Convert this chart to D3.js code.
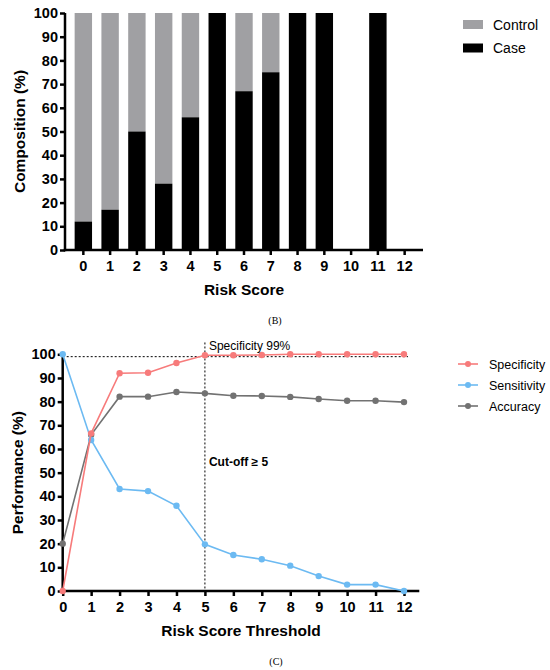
<!DOCTYPE html>
<html><head><meta charset="utf-8">
<script src="https://cdn.jsdelivr.net/npm/d3@7"></script>
<style>
body{margin:0;background:#fff;}
svg{display:block;font-family:"Liberation Sans",Arial,sans-serif;}
</style></head>
<body>
<svg id="chart" width="550" height="670"></svg>
<script>
// ---- Data: panel B (composition) ----
const scores = ["0","1","2","3","4","5","6","7","8","9","10","11","12"];
const caseValues    = [12,17,50,28,56,100,67,75,100,100,0,100,0];
const controlValues = [88,83,50,72,44,0,33,25,0,0,0,0,0];
const compTicks = [0,10,20,30,40,50,60,70,80,90,100];

// ---- Data: panel C (performance) ----
const thresholds  = [0,1,2,3,4,5,6,7,8,9,10,11,12];
const specificity = [0,66.6,92,92.2,96.3,99.6,99.6,99.7,100,100,100,100,100];
const sensitivity = [100,63.8,43.1,42.2,36,19.7,15.2,13.4,10.7,6.3,2.7,2.7,0];
const accuracy    = [20,66,82.1,82.1,84.1,83.5,82.5,82.4,82,81.1,80.4,80.4,79.8];
const perfTicks = [0,10,20,30,40,50,60,70,80,90,100];
const specCutoff = 99;
const scoreCutoff = 5;

const svg = d3.select("#chart");
const COL_CONTROL = "#a0a0a3", COL_CASE = "#000000";
const COL_SPEC = "#f77b7b", COL_SENS = "#6cbaf2", COL_ACC = "#727272";

function styleAxis(g){
  g.select(".domain").attr("stroke","#000").attr("stroke-width",2.5);
  g.selectAll(".tick line").attr("stroke","#000").attr("stroke-width",2.5);
  g.selectAll(".tick text").attr("font-size","14.5px").attr("font-weight","bold").attr("fill","#000");
}

// ================= Panel B =================
(function(){
  const left=65, right=423, top=13, bottom=250;
  const x = d3.scaleBand().domain(scores).range([left,right]).paddingInner(0.35).paddingOuter(0.36);
  const y = d3.scaleLinear().domain([0,100]).range([bottom,top]);
  const g = svg.append("g");
  const rows = scores.map((s,i)=>({s, c:caseValues[i], k:controlValues[i]}));
  g.selectAll("rect.ctrl").data(rows).join("rect")
    .attr("x",d=>x(d.s)).attr("width",x.bandwidth())
    .attr("y",d=>y(d.c+d.k)).attr("height",d=>y(d.c)-y(d.c+d.k))
    .attr("fill",COL_CONTROL);
  g.selectAll("rect.case").data(rows).join("rect")
    .attr("x",d=>x(d.s)).attr("width",x.bandwidth())
    .attr("y",d=>y(d.c)).attr("height",d=>y(0)-y(d.c))
    .attr("fill",COL_CASE);
  const xa = g.append("g").attr("transform",`translate(0,${bottom})`)
    .call(d3.axisBottom(x).tickSizeOuter(0).tickSize(5).tickPadding(6));
  styleAxis(xa);
  const ya = g.append("g").attr("transform",`translate(${left},0)`)
    .call(d3.axisLeft(y).tickValues(compTicks).tickSizeOuter(0).tickSize(5).tickPadding(2));
  styleAxis(ya);
  ya.select(".domain").attr("d",`M0,${bottom+1.25}V${top}`);
  xa.select(".domain").attr("d",`M${left-1.25},0H${right}`);
  g.append("text").attr("x",(left+right)/2).attr("y",295).attr("text-anchor","middle")
    .attr("font-size","15.5px").attr("font-weight","bold").text("Risk Score");
  g.append("text").attr("transform",`translate(25,${(top+bottom)/2}) rotate(-90)`)
    .attr("text-anchor","middle").attr("font-size","15.5px").attr("font-weight","bold").text("Composition (%)");
  // legend
  const leg = [["Control",COL_CONTROL],["Case",COL_CASE]];
  leg.forEach((d,i)=>{
    const cy = 24.5 + i*23.5;
    g.append("rect").attr("x",463).attr("y",cy-4.5).attr("width",20).attr("height",9).attr("fill",d[1]);
    g.append("text").attr("x",493).attr("y",cy+5).attr("font-size","14px").text(d[0]);
  });
  svg.append("text").attr("x",275).attr("y",324).attr("text-anchor","middle")
    .attr("font-family","'Liberation Serif',serif").attr("font-size","10px").text("(B)");
})();

// ================= Panel C =================
(function(){
  const left=62.7, right=404, axisEnd=419.3, top=354.3, bottom=591;
  const x = d3.scaleLinear().domain([0,12]).range([left,right]);
  const y = d3.scaleLinear().domain([0,100]).range([bottom,top]);
  const g = svg.append("g");
  // reference lines
  g.append("line").attr("x1",x(0)).attr("x2",x(12)+4).attr("y1",y(specCutoff)).attr("y2",y(specCutoff))
    .attr("stroke","#000").attr("stroke-width",1).attr("stroke-dasharray","2,2");
  g.append("line").attr("x1",x(scoreCutoff)).attr("x2",x(scoreCutoff)).attr("y1",y(105)).attr("y2",y(0))
    .attr("stroke","#000").attr("stroke-width",1).attr("stroke-dasharray","2,2");

  const xa = g.append("g").attr("transform",`translate(0,${bottom})`)
    .call(d3.axisBottom(x).tickValues(thresholds).tickFormat(d3.format("d")).tickSizeOuter(0).tickSize(5).tickPadding(6));
  styleAxis(xa);
  xa.select(".domain").attr("d",`M${left-1.25},0H${axisEnd}`);
  const ya = g.append("g").attr("transform",`translate(${left},0)`)
    .call(d3.axisLeft(y).tickValues(perfTicks).tickSizeOuter(0).tickSize(5).tickPadding(2));
  styleAxis(ya);
  ya.select(".domain").attr("d",`M0,${bottom+1.25}V${top}`);

  const series = [["Specificity",specificity,COL_SPEC],["Sensitivity",sensitivity,COL_SENS],["Accuracy",accuracy,COL_ACC]];
  const line = d3.line().x((d,i)=>x(thresholds[i])).y(d=>y(d));
  [series[2],series[1],series[0]].forEach(s=>{
    g.append("path").datum(s[1]).attr("d",line).attr("fill","none").attr("stroke",s[2]).attr("stroke-width",1.6);
    g.selectAll(null).data(s[1]).join("circle")
      .attr("cx",(d,i)=>x(thresholds[i])).attr("cy",d=>y(d)).attr("r",3.2).attr("fill",s[2]);
  });

  g.append("text").attr("x",x(scoreCutoff)+4).attr("y",349.5).attr("font-size","12px").text("Specificity 99%");
  g.append("text").attr("x",x(scoreCutoff)+4).attr("y",466).attr("font-size","12px").attr("font-weight","bold").text("Cut-off ≥ 5");

  g.append("text").attr("x",(left+axisEnd)/2).attr("y",636).attr("text-anchor","middle")
    .attr("font-size","15.5px").attr("font-weight","bold").text("Risk Score Threshold");
  g.append("text").attr("transform",`translate(23,${(top+bottom)/2}) rotate(-90)`)
    .attr("text-anchor","middle").attr("font-size","15.5px").attr("font-weight","bold").text("Performance (%)");

  series.forEach((s,i)=>{
    const cy = 364 + i*21;
    g.append("line").attr("x1",458).attr("x2",478).attr("y1",cy).attr("y2",cy).attr("stroke",s[2]).attr("stroke-width",1.6);
    g.append("circle").attr("cx",468).attr("cy",cy).attr("r",3).attr("fill",s[2]);
    g.append("text").attr("x",489).attr("y",cy+4.5).attr("font-size","12.5px").text(s[0]);
  });
  svg.append("text").attr("x",276).attr("y",665).attr("text-anchor","middle")
    .attr("font-family","'Liberation Serif',serif").attr("font-size","10px").text("(C)");
})();
</script>
</body></html>
